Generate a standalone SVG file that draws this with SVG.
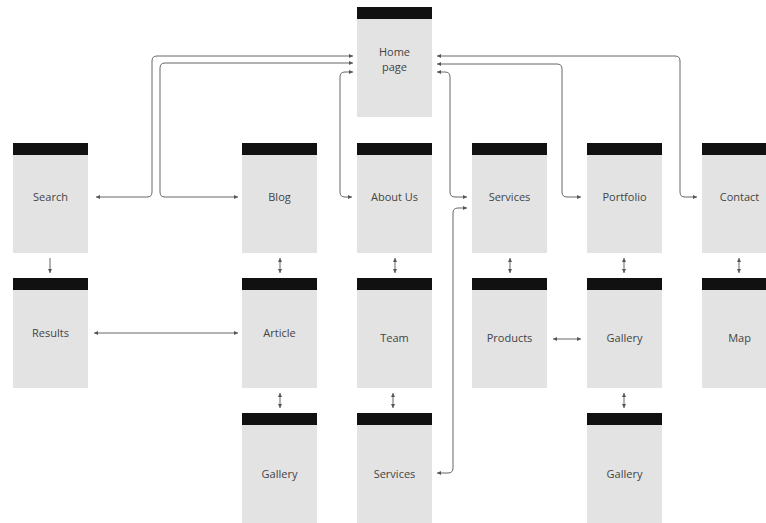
<svg xmlns="http://www.w3.org/2000/svg" width="766" height="523" viewBox="0 0 766 523">
<defs>
<marker id="ah" markerUnits="userSpaceOnUse" markerWidth="5" markerHeight="5" refX="4" refY="2" orient="auto-start-reverse"><path d="M0,0 L4,2 L0,4 z" fill="#555"/></marker>
<style>
.bar{fill:#111}
.body{fill:#e3e3e3}
.lbl{font-family:"Open Sans","Noto Sans",sans-serif;font-size:11px;fill:#444;text-anchor:middle}
.c{fill:none;stroke:#666;stroke-width:1}
.b{marker-start:url(#ah);marker-end:url(#ah)}
.e{marker-end:url(#ah)}
</style>
</defs>
<rect width="766" height="523" fill="#fff"/>
<g id="connectors">
<path class="c b" d="M353,56 H157 Q152,56 152,61 V192 Q152,197 147,197 H96"/>
<path class="c b" d="M353,63 H165 Q160,63 160,68 V192 Q160,197 165,197 H238"/>
<path class="c b" d="M353,72 H345 Q340,72 340,77 V192 Q340,197 345,197 H352"/>
<path class="c b" d="M437,72 H445 Q450,72 450,77 V192 Q450,197 455,197 H467"/>
<path class="c b" d="M437,64 H557 Q562,64 562,69 V192 Q562,197 567,197 H581"/>
<path class="c b" d="M437,56 H675 Q680,56 680,61 V192 Q680,197 685,197 H697"/>
<path class="c b" d="M467,208 H458 Q453,208 453,213 V468 Q453,473 448,473 H437"/>
<path class="c e" d="M50,258 V273"/>
<path class="c b" d="M280,258 V273"/>
<path class="c b" d="M395,258 V273"/>
<path class="c b" d="M510,258 V273"/>
<path class="c b" d="M624,258 V273"/>
<path class="c b" d="M739,258 V273"/>
<path class="c b" d="M280,393 V408"/>
<path class="c b" d="M393,393 V408"/>
<path class="c b" d="M624,393 V408"/>
<path class="c b" d="M94,333 H238"/>
<path class="c b" d="M553,339 H581"/>
</g>
<g id="home"><rect class="bar" x="357" y="7" width="75" height="12"/><rect class="body" x="357" y="19" width="75" height="98"/><text class="lbl" x="394.5" y="56">Home</text><text class="lbl" x="394.5" y="71">page</text></g>
<g id="search"><rect class="bar" x="13" y="143" width="75" height="12"/><rect class="body" x="13" y="155" width="75" height="98"/><text class="lbl" x="50.5" y="201">Search</text></g>
<g id="blog"><rect class="bar" x="242" y="143" width="75" height="12"/><rect class="body" x="242" y="155" width="75" height="98"/><text class="lbl" x="279.5" y="201">Blog</text></g>
<g id="about"><rect class="bar" x="357" y="143" width="75" height="12"/><rect class="body" x="357" y="155" width="75" height="98"/><text class="lbl" x="394.5" y="201">About Us</text></g>
<g id="services"><rect class="bar" x="472" y="143" width="75" height="12"/><rect class="body" x="472" y="155" width="75" height="98"/><text class="lbl" x="509.5" y="201">Services</text></g>
<g id="portfolio"><rect class="bar" x="587" y="143" width="75" height="12"/><rect class="body" x="587" y="155" width="75" height="98"/><text class="lbl" x="624.5" y="201">Portfolio</text></g>
<g id="contact"><rect class="bar" x="702" y="143" width="75" height="12"/><rect class="body" x="702" y="155" width="75" height="98"/><text class="lbl" x="739.5" y="201">Contact</text></g>
<g id="results"><rect class="bar" x="13" y="278" width="75" height="12"/><rect class="body" x="13" y="290" width="75" height="98"/><text class="lbl" x="50.5" y="337">Results</text></g>
<g id="article"><rect class="bar" x="242" y="278" width="75" height="12"/><rect class="body" x="242" y="290" width="75" height="98"/><text class="lbl" x="279.5" y="337">Article</text></g>
<g id="team"><rect class="bar" x="357" y="278" width="75" height="12"/><rect class="body" x="357" y="290" width="75" height="98"/><text class="lbl" x="394.5" y="342">Team</text></g>
<g id="products"><rect class="bar" x="472" y="278" width="75" height="12"/><rect class="body" x="472" y="290" width="75" height="98"/><text class="lbl" x="509.5" y="342">Products</text></g>
<g id="gallery2"><rect class="bar" x="587" y="278" width="75" height="12"/><rect class="body" x="587" y="290" width="75" height="98"/><text class="lbl" x="624.5" y="342">Gallery</text></g>
<g id="map"><rect class="bar" x="702" y="278" width="75" height="12"/><rect class="body" x="702" y="290" width="75" height="98"/><text class="lbl" x="739.5" y="342">Map</text></g>
<g id="gallery1"><rect class="bar" x="242" y="413" width="75" height="12"/><rect class="body" x="242" y="425" width="75" height="98"/><text class="lbl" x="279.5" y="478">Gallery</text></g>
<g id="services2"><rect class="bar" x="357" y="413" width="75" height="12"/><rect class="body" x="357" y="425" width="75" height="98"/><text class="lbl" x="394.5" y="478">Services</text></g>
<g id="gallery3"><rect class="bar" x="587" y="413" width="75" height="12"/><rect class="body" x="587" y="425" width="75" height="98"/><text class="lbl" x="624.5" y="478">Gallery</text></g>
</svg>
